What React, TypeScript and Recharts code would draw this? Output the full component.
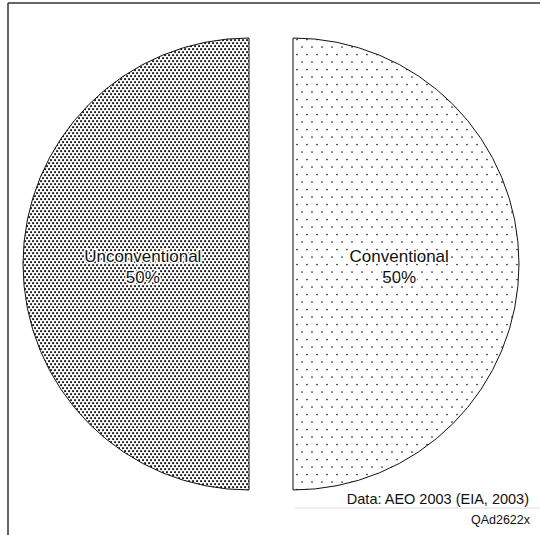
import { PieChart, Pie, Cell } from "recharts"

const names = ["Unconventional", "Conventional"]
const shares = [50, 50]
const fills = ["url(#denseDots)", "url(#sparseDots)"]

const RADIAN = Math.PI / 180
const CX = 271
const CY = 264
const R = 226
const GAP = 22

const total = shares.reduce((a, b) => a + b, 0)

let acc = 0
const slices = names.map((name, i) => {
  const start = 90 + (360 * acc) / total
  const end = start + (360 * shares[i]) / total
  acc += shares[i]
  const mid = (start + end) / 2
  return {
    name,
    value: shares[i],
    pct: Math.round((100 * shares[i]) / total),
    start,
    end,
    cx: CX + GAP * Math.cos(mid * RADIAN),
    cy: CY - GAP * Math.sin(mid * RADIAN),
    fill: fills[i],
  }
})

const renderLabel = (pct: number) => (props: any) => {
  const { cx, cy, midAngle, outerRadius, name } = props
  const x = cx + outerRadius * 0.47 * Math.cos(-midAngle * RADIAN)
  const y = cy + outerRadius * 0.47 * Math.sin(-midAngle * RADIAN)
  const style = {
    fontFamily: "'Liberation Sans', Arial, sans-serif",
    fontSize: 17,
    fill: "#111",
    stroke: "#fff",
    strokeWidth: 3,
    paintOrder: "stroke" as const,
  }
  return (
    <g>
      <text x={x} y={y - 2} textAnchor="middle" style={style}>
        {name}
      </text>
      <text x={x} y={y + 19} textAnchor="middle" style={style}>
        {pct}%
      </text>
    </g>
  )
}

export default function App() {
  return (
    <div
      style={{
        position: "absolute",
        left: 0,
        top: 0,
        width: 540,
        height: 535,
        background: "#fff",
      }}
    >
      <PieChart width={540} height={535} margin={{ top: 0, right: 0, bottom: 0, left: 0 }}>
        <defs>
          <pattern id="denseDots" width="4" height="6" patternUnits="userSpaceOnUse">
            <rect width="4" height="6" fill="#fff" />
            <rect x="0.1" y="0.2" width="2" height="1.9" fill="#1a1a1a" />
            <rect x="2.1" y="3.2" width="2" height="1.9" fill="#1a1a1a" />
          </pattern>
          <pattern id="sparseDots" width="10" height="15" patternUnits="userSpaceOnUse">
            <rect width="10" height="15" fill="#fff" />
            <circle cx="2" cy="2" r="0.85" fill="#222" />
            <circle cx="7" cy="9.5" r="0.85" fill="#222" />
          </pattern>
        </defs>
        <line x1={8} y1={3} x2={540} y2={3} stroke="#333" strokeWidth={1.5} />
        <line x1={8} y1={3} x2={8} y2={535} stroke="#333" strokeWidth={1.5} />
        <line x1={295} y1={508} x2={540} y2={508} stroke="#ddd" strokeWidth={1} />
        {slices.map((s) => (
          <Pie
            key={s.name}
            data={[s]}
            dataKey="value"
            nameKey="name"
            cx={s.cx}
            cy={s.cy}
            outerRadius={R}
            startAngle={s.start}
            endAngle={s.end}
            stroke="#111"
            strokeWidth={1}
            label={renderLabel(s.pct)}
            labelLine={false}
            isAnimationActive={false}
          >
            <Cell fill={s.fill} />
          </Pie>
        ))}
        <text
          x={529}
          y={504}
          textAnchor="end"
          style={{ fontFamily: "'Liberation Sans', Arial, sans-serif", fontSize: 14.5, fill: "#111" }}
        >
          Data: AEO 2003 (EIA, 2003)
        </text>
        <text
          x={530}
          y={524}
          textAnchor="end"
          style={{ fontFamily: "'Liberation Sans', Arial, sans-serif", fontSize: 12.5, fill: "#111" }}
        >
          QAd2622x
        </text>
      </PieChart>
    </div>
  )
}
